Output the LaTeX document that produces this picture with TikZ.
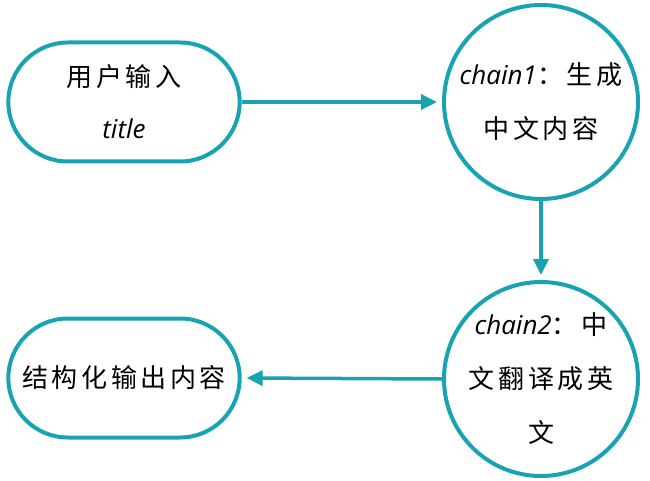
\documentclass[tikz,border=0pt]{standalone}
\usepackage{fontspec}
\setmainfont{Open Sans}
\newfontfamily\cjk[LetterSpace=14]{Noto Sans CJK SC}
\usetikzlibrary{arrows.meta,shapes.misc}
\definecolor{chainteal}{HTML}{18A3B3}

\tikzset{
    stadium/.style={draw=chainteal, line width=4pt, rounded rectangle, minimum width=238pt, minimum height=119pt, align=center, font=\fontsize{26}{52}\selectfont},
    chainnode/.style={draw=chainteal, line width=4pt, circle, minimum size=194pt, inner sep=-16pt, align=center, font=\fontsize{26}{54}\selectfont},
    flow/.style={draw=chainteal, line width=3.5pt, -{Triangle[length=16pt,width=15pt]}, shorten >=5pt}
}

\begin{document}
\begin{tikzpicture}[x=1pt, y=-1pt]
    \useasboundingbox (0,0) rectangle (650,481);
    % Nodes
    \node[stadium] (input) at (124,102) {{\cjk 用户输入}\\\textit{title}};
    \node[chainnode] (chain1) at (541,102) {\textit{chain1}{\cjk ：生成}\\{\cjk 中文内容}};
    \node[chainnode] (chain2) at (541,379) {\textit{chain2}{\cjk ：中}\\{\cjk 文翻译成英}\\{\cjk 文}};
    \node[stadium] (output) at (124,378) {\cjk 结构化输出内容};

    % Connections
    \draw[flow] (input.east) -- (chain1.west);
    \draw[flow] (chain1.south) -- (chain2.north);
    \draw[flow] (chain2.west) -- (output.east);
\end{tikzpicture}
\end{document}
